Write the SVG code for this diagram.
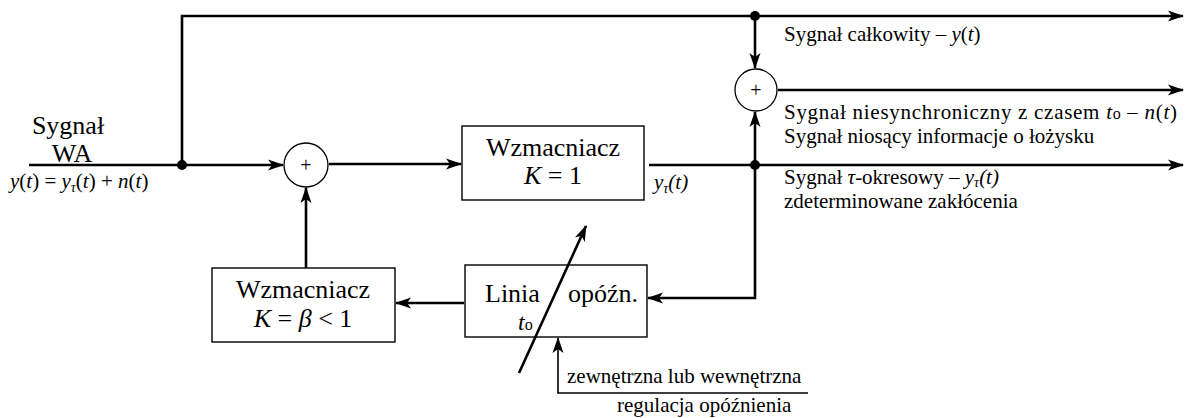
<svg xmlns="http://www.w3.org/2000/svg" width="1192" height="418" viewBox="0 0 1192 418">
<style>
text{font-family:"Liberation Serif","Times New Roman",serif;fill:#000}
.box{fill:#fff;stroke:#000;stroke-width:1.4}
.sum{fill:#fff;stroke:#000;stroke-width:1.3}
.ln{fill:none;stroke:#000;stroke-width:2.6}
.thin{fill:none;stroke:#000;stroke-width:1.6}
.bt{font-size:26px}
.lb{font-size:21px}
.i{font-style:italic}
</style>
<defs>
<marker id="ah" markerUnits="userSpaceOnUse" markerWidth="16" markerHeight="12" viewBox="0 0 16 12" refX="15" refY="6" orient="auto">
<path d="M0,0.5 L16,6 L0,11.5 L4,6 Z" fill="#000"/>
</marker>
</defs>
<g id="connectors">
<path class="ln" d="M29,165 H283" marker-end="url(#ah)"/>
<path class="ln" d="M182,165 V16 H1183" marker-end="url(#ah)"/>
<path class="ln" d="M329,164 H461" marker-end="url(#ah)"/>
<path class="ln" d="M649,165 H1183" marker-end="url(#ah)"/>
<path class="ln" d="M755,16 V68" marker-end="url(#ah)"/>
<path class="ln" d="M755,165 V112" marker-end="url(#ah)"/>
<path class="ln" d="M778,90 H1183" marker-end="url(#ah)"/>
<path class="ln" d="M755,165 V298 H648" marker-end="url(#ah)"/>
<path class="ln" d="M464,303 H396" marker-end="url(#ah)"/>
<path class="ln" d="M306,268 V188" marker-end="url(#ah)"/>
<path class="thin" d="M808,393 H558 V338" marker-end="url(#ah)"/>
<circle cx="182" cy="165" r="5"/>
<circle cx="755" cy="16" r="5"/>
<circle cx="755" cy="165" r="5"/>
</g>
<g id="input-label">
<text class="bt" x="68" y="134" text-anchor="middle">Sygnał</text>
<text class="bt" x="72" y="162" text-anchor="middle">WA</text>
<text class="lb" x="10" y="188"><tspan class="i">y</tspan>(<tspan class="i">t</tspan>) = <tspan class="i">y</tspan><tspan class="i" font-size="14" dy="4">τ</tspan><tspan dy="-4">(</tspan><tspan class="i">t</tspan>) + <tspan class="i">n</tspan>(<tspan class="i">t</tspan>)</text>
</g>
<g id="sum1">
<circle class="sum" cx="306" cy="165" r="22"/>
<text x="306" y="172" font-size="20" text-anchor="middle">+</text>
</g>
<g id="amp1">
<rect class="box" x="462" y="126" width="182" height="74"/>
<text class="bt" x="553" y="156" text-anchor="middle">Wzmacniacz</text>
<text class="bt" x="553" y="184" text-anchor="middle"><tspan class="i">K</tspan> = 1</text>
</g>
<text id="ytau-label" class="lb" x="654" y="189" font-style="italic">y<tspan font-size="14" dy="4">τ</tspan><tspan dy="-4">(t)</tspan></text>
<g id="sum2">
<circle class="sum" cx="756" cy="90" r="21"/>
<text x="756" y="97" font-size="20" text-anchor="middle">+</text>
</g>
<g id="amp2">
<rect class="box" x="212" y="268" width="183" height="74"/>
<text class="bt" x="303" y="298" text-anchor="middle">Wzmacniacz</text>
<text class="bt" x="303" y="327" text-anchor="middle"><tspan class="i">K</tspan> = <tspan class="i">β</tspan> &lt; 1</text>
</g>
<g id="delay">
<rect class="box" x="465" y="265" width="182" height="72"/>
<text class="bt" x="485" y="302">Linia</text>
<text class="bt" x="568" y="302">opóźn.</text>
<text x="518" y="330" font-size="24"><tspan class="i">t</tspan><tspan font-size="16">o</tspan></text>
</g>
<g id="adjust-arrow">
<path class="ln" d="M519,373 L586,226" marker-end="url(#ah)"/>
</g>
<g id="output-labels">
<text class="lb" x="784" y="41">Sygnał całkowity – <tspan class="i">y</tspan>(<tspan class="i">t</tspan>)</text>
<text class="lb" x="784" y="119" textLength="393" lengthAdjust="spacing">Sygnał niesynchroniczny z czasem <tspan class="i">t</tspan><tspan font-size="16">o</tspan> – <tspan class="i">n</tspan>(<tspan class="i">t</tspan>)</text>
<text class="lb" x="784" y="143">Sygnał niosący informacje o łożysku</text>
<text class="lb" x="784" y="184">Sygnał <tspan class="i">τ</tspan>-okresowy – <tspan class="i">y</tspan><tspan class="i" font-size="14" dy="3">τ</tspan><tspan class="i" dy="-3">(t)</tspan></text>
<text class="lb" x="784" y="208">zdeterminowane zakłócenia</text>
</g>
<g id="regulation-label">
<text class="lb" x="567" y="383">zewnętrzna lub wewnętrzna</text>
<text class="lb" x="617" y="412">regulacja opóźnienia</text>
</g>
</svg>
